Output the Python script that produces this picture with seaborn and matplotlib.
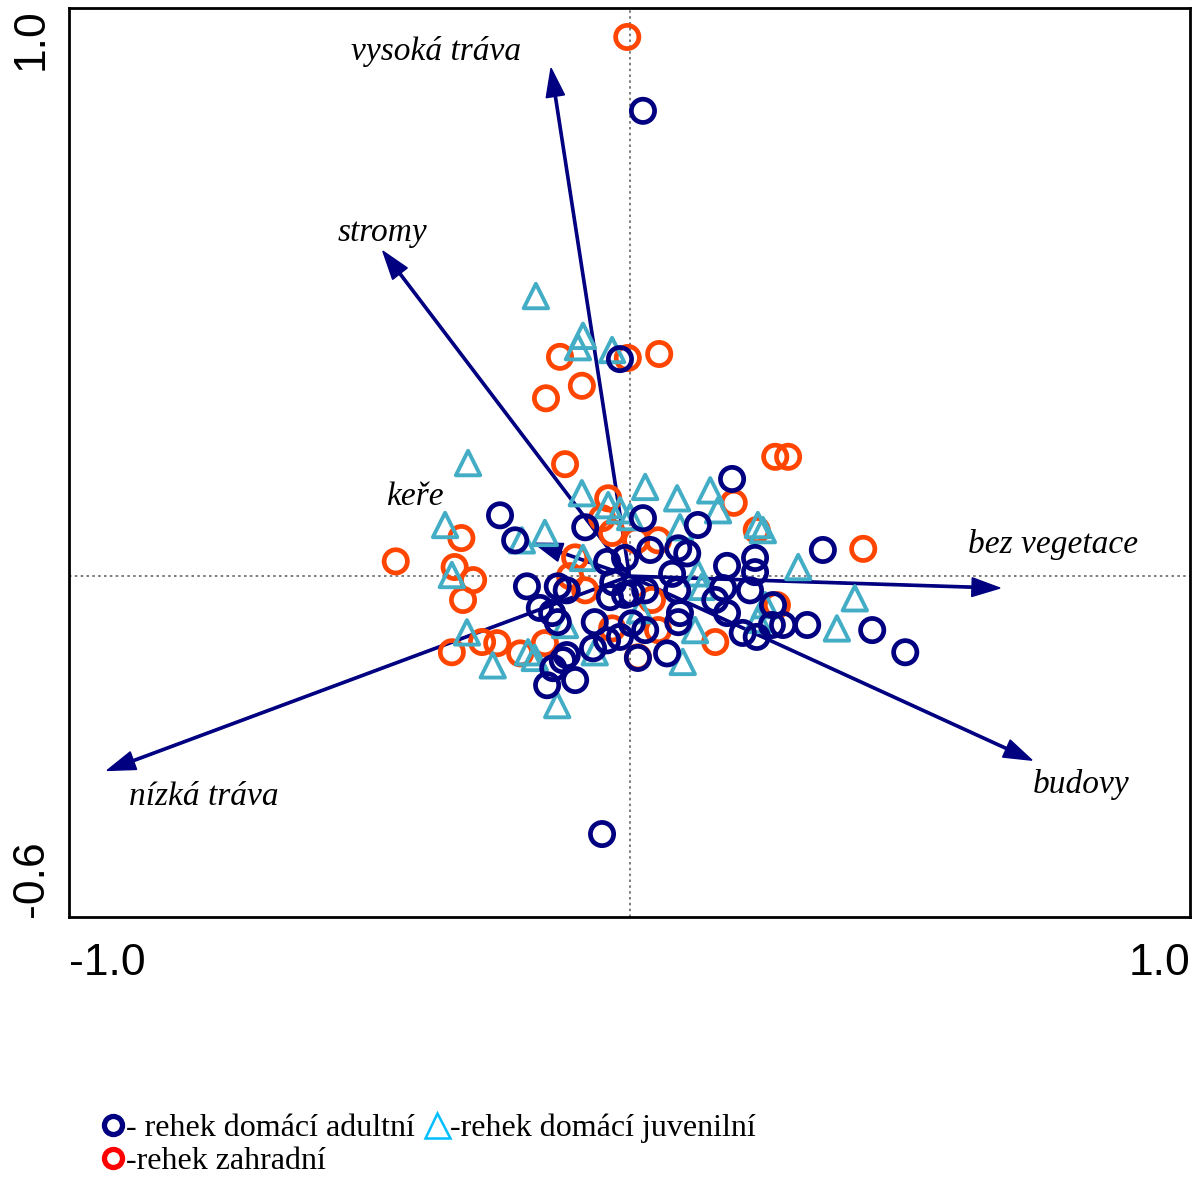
import numpy as np
import pandas as pd
import seaborn as sns
import matplotlib.pyplot as plt
from matplotlib.lines import Line2D

# ---- data (ordination scores) ----
adult_x = [0.024, -0.017, 0.183, -0.231, -0.204, -0.079, 0.024, 0.122, 0.345, 0.087,
           0.103, 0.037, 0.174, 0.224, 0.224, -0.008, -0.040, -0.183, -0.128, -0.112,
           -0.160, -0.138, -0.128, -0.062, -0.035, -0.008, -0.040, -0.017, -0.119, -0.136,
           -0.097, -0.147, -0.112, -0.065, 0.004, 0.028, 0.085, 0.167, 0.215, 0.153,
           0.174, 0.090, 0.087, 0.202, 0.227, 0.254, 0.274, 0.256, 0.317, 0.433,
           0.492, 0.067, 0.015, 0.004, 0.028, -0.049, -0.029, 0.076]
adult_y = [0.819, 0.382, 0.171, 0.107, 0.063, 0.086, 0.102, 0.090, 0.046, 0.049,
           0.040, 0.046, 0.018, 0.032, 0.007, 0.032, 0.025, -0.018, -0.018, -0.025,
           -0.056, -0.065, -0.081, -0.081, -0.037, -0.033, -0.113, -0.107, -0.148, -0.162,
           -0.183, -0.192, -0.139, -0.127, -0.030, -0.025, -0.025, -0.021, -0.025, -0.042,
           -0.065, -0.065, -0.081, -0.100, -0.107, -0.086, -0.086, -0.051, -0.086, -0.095,
           -0.134, -0.136, -0.144, -0.083, -0.095, -0.454, -0.011, 0.004]

juv_x = [-0.167, -0.083, -0.092, -0.031, -0.288, -0.085, -0.038, -0.017, 0.001, 0.028,
         0.085, 0.144, 0.158, 0.090, -0.329, -0.151, -0.192, 0.229, 0.238, -0.317,
         -0.083, 0.301, 0.402, 0.370, -0.290, -0.244, -0.181, -0.169, -0.129, 0.095,
         0.117, 0.122, 0.129, 0.242, 0.229, -0.115, 0.019, -0.062]
juv_y = [0.493, 0.423, 0.403, 0.398, 0.199, 0.146, 0.125, 0.116, 0.104, 0.157,
         0.137, 0.151, 0.116, 0.086, 0.090, 0.076, 0.063, 0.090, 0.081, 0.002,
         0.032, 0.016, -0.039, -0.092, -0.099, -0.157, -0.134, -0.144, -0.227, -0.151,
         -0.095, 0.005, -0.019, -0.051, -0.077, -0.086, -0.060, -0.134]

garden_x = [-0.004, -0.124, -0.085, -0.149, -0.003, 0.053, -0.115, 0.260, 0.283, 0.186,
            -0.038, -0.049, -0.031, -0.417, -0.300, -0.312, -0.279, -0.297, -0.317, -0.263,
            -0.236, -0.195, -0.151, -0.097, -0.106, 0.012, 0.051, 0.227, 0.417, 0.263,
            0.153, 0.051, 0.040, 0.015, -0.031, -0.079]
garden_y = [0.949, 0.386, 0.335, 0.313, 0.384, 0.391, 0.197, 0.210, 0.210, 0.129,
            0.137, 0.102, 0.076, 0.026, 0.067, 0.016, -0.007, -0.042, -0.134, -0.116,
            -0.118, -0.136, -0.118, 0.033, 0.000, 0.063, 0.063, 0.081, 0.048, -0.051,
            -0.116, -0.095, -0.042, -0.143, -0.092, -0.025]

# environmental variables (arrow tips) and label anchors
env_names = ['vysoká tráva', 'stromy', 'keře', 'bez vegetace', 'budovy', 'nízká tráva']
env_x = [-0.140, -0.440, -0.170, 0.661, 0.718, -0.932]
env_y = [0.894, 0.572, 0.058, -0.021, -0.324, -0.342]
lab_x = [-0.345, -0.440, -0.383, 0.756, 0.806, -0.759]
lab_y = [0.923, 0.604, 0.139, 0.055, -0.366, -0.389]

groups = ['rehek zahradní', 'rehek domácí juvenilní', 'rehek domácí adultní']
df = pd.concat([
    pd.DataFrame({'x': garden_x, 'y': garden_y, 'group': groups[0]}),
    pd.DataFrame({'x': juv_x, 'y': juv_y, 'group': groups[1]}),
    pd.DataFrame({'x': adult_x, 'y': adult_y, 'group': groups[2]}),
])

col_garden = '#ff4500'
col_juv = '#44adc6'
col_adult = '#000080'

sns.set_style('white')
plt.rcParams['font.family'] = ['Liberation Sans', 'DejaVu Sans']
plt.rcParams['text.color'] = 'black'
plt.rcParams['xtick.color'] = 'black'
plt.rcParams['ytick.color'] = 'black'

fig = plt.figure(figsize=(11.97, 11.78), dpi=100)
ax = fig.add_axes([69 / 1197, 1 - 917 / 1178, 1121 / 1197, 909 / 1178])

ax.axhline(0, color='#666666', ls=(0, (1.5, 2)), lw=1.2, zorder=1)
ax.axvline(0, color='#666666', ls=(0, (1.5, 2)), lw=1.2, zorder=1)

# arrows
for name, ex, ey, lx, ly in zip(env_names, env_x, env_y, lab_x, lab_y):
    ax.arrow(0, 0, ex, ey, width=0.004, head_width=0.033, head_length=0.05,
             length_includes_head=True, color=col_adult, zorder=2)
    ax.text(lx, ly, name, fontsize=24, style='italic', family='Liberation Serif',
            color='black', ha='center', va='center', zorder=5)

# points: garden, juveniles, adults (adults on top)
sns.scatterplot(data=df[df.group == groups[0]], x='x', y='y', marker='o', s=280,
                color=col_garden, facecolors='none', edgecolor=col_garden,
                linewidth=3.4, ax=ax, zorder=3)
sns.scatterplot(data=df[df.group == groups[1]], x='x', y='y', marker='^', s=310,
                color=col_juv, facecolors='none', edgecolor=col_juv,
                linewidth=2.8, ax=ax, zorder=3)
sns.scatterplot(data=df[df.group == groups[2]], x='x', y='y', marker='o', s=280,
                color=col_adult, facecolors='none', edgecolor=col_adult,
                linewidth=3.4, ax=ax, zorder=4)

ax.set_xlim(-1.0, 1.0)
ax.set_ylim(-0.6, 1.0)
ax.set_xlabel('')
ax.set_ylabel('')

xt = [-1.0, -0.5, 0.0, 0.5, 1.0]
yt = [-0.6, -0.4, -0.2, 0.0, 0.2, 0.4, 0.6, 0.8, 1.0]
ax.set_xticks(xt)
ax.set_xticklabels(['-1.0', '', '', '', '1.0'], fontsize=32)
ax.set_yticks(yt)
ax.set_yticklabels(['-0.6'] + [''] * 7 + ['1.0'], fontsize=32, rotation=90)
ax.tick_params(axis='both', direction='inout', length=9, width=1.5, color='black',
               labelcolor='black')
ax.tick_params(axis='x', pad=14)
ax.tick_params(axis='y', pad=8)
xl = ax.get_xticklabels()
xl[0].set_ha('left')
xl[-1].set_ha('right')
yl = ax.get_yticklabels()
yl[0].set_va('bottom')
yl[-1].set_va('top')

for sp in ax.spines.values():
    sp.set_color('black')
    sp.set_linewidth(2)

# legend
handles = [
    Line2D([], [], ls='', marker='o', markersize=13, markerfacecolor='none',
           markeredgecolor='#000080', markeredgewidth=3.8),
    Line2D([], [], ls='', marker='o', markersize=13, markerfacecolor='none',
           markeredgecolor='#ff0000', markeredgewidth=3.8),
    Line2D([], [], ls='', marker='^', markersize=18, markerfacecolor='none',
           markeredgecolor='#00bfff', markeredgewidth=1.8),
]
labels = ['- rehek domácí adultní', '-rehek zahradní', '-rehek domácí juvenilní']
fig.legend(handles, labels, loc='upper left', bbox_to_anchor=(0.072, 0.068), ncol=2,
           frameon=False, handlelength=0.7, handletextpad=0.05, columnspacing=0.35,
           labelspacing=0.1, borderpad=0,
           prop={'family': 'Liberation Serif', 'size': 23})

fig.savefig('out.png', dpi=100)
